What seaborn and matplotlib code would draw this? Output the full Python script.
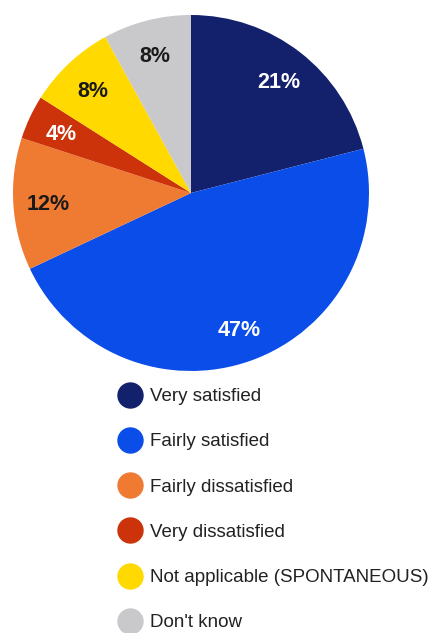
import matplotlib
matplotlib.use("Agg")
import matplotlib.pyplot as plt
from matplotlib.lines import Line2D
import seaborn as sns

categories = [
    "Very satisfied",
    "Fairly satisfied",
    "Fairly dissatisfied",
    "Very dissatisfied",
    "Not applicable (SPONTANEOUS)",
    "Don't know",
]
shares = [21, 47, 12, 4, 8, 8]
slice_colors = ["#13206b", "#0b4de8", "#ef7a32", "#cc330a", "#ffd900", "#c9c9cc"]
label_colors = ["white", "white", "#1a1a1a", "white", "#1a1a1a", "#1a1a1a"]

sns.set_theme(style="white")
plt.rcParams["font.family"] = ["Liberation Sans", "DejaVu Sans"]

W, H = 435, 633
fig = plt.figure(figsize=(W / 100, H / 100), dpi=100)
fig.patch.set_facecolor("white")

# Pie axes: square box centred at (191, 193) px with radius 178 px
cx, cy, r = 191, 193, 178
ax = fig.add_axes([(cx - r) / W, (H - cy - r) / H, 2 * r / W, 2 * r / H])
palette = sns.color_palette(slice_colors)

wedges, texts = ax.pie(
    shares,
    colors=palette,
    startangle=90,
    counterclock=False,
    radius=1.0,
    labels=[f"{v}%" for v in shares],
    labeldistance=0.805,
    wedgeprops=dict(linewidth=0),
)
for t, c in zip(texts, label_colors):
    t.set_color(c)
    t.set_fontsize(15.5)
    t.set_fontweight("bold")
    t.set_ha("center")
    t.set_va("center_baseline")
ax.set_xlim(-1, 1)
ax.set_ylim(-1, 1)
ax.set_aspect("equal")
ax.axis("off")

handles = [
    Line2D([], [], marker="o", linestyle="none", markersize=18,
           markerfacecolor=c, markeredgecolor=c)
    for c in palette
]
leg = fig.legend(
    handles, categories,
    loc="upper left",
    bbox_to_anchor=(120.5 / W, 1 - 388 / H),
    frameon=False,
    fontsize=13.5,
    handlelength=1.0,
    handletextpad=0.57,
    labelspacing=1.50,
    borderpad=0,
    borderaxespad=0,
)
for t in leg.get_texts():
    t.set_color("#222222")

fig.savefig("out.png", dpi=100, facecolor="white")
